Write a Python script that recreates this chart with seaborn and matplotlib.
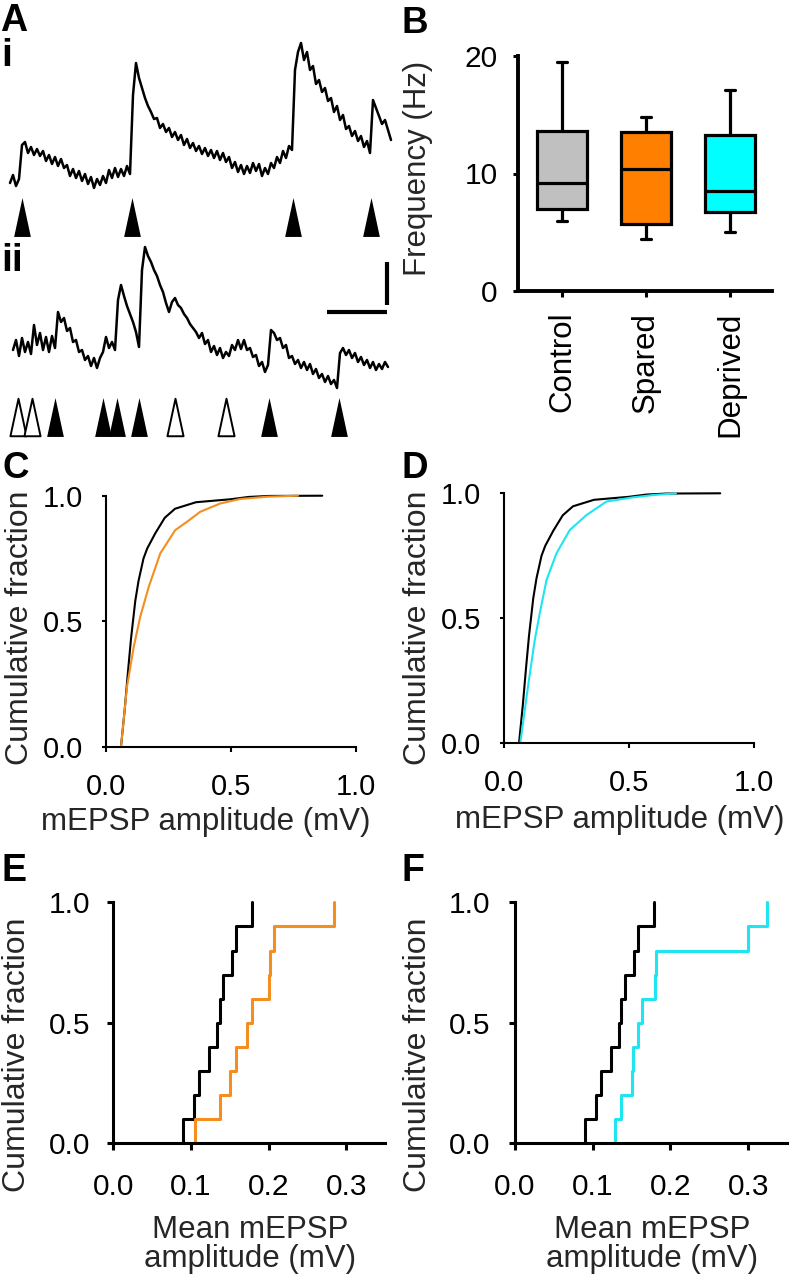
import numpy as np
import pandas as pd
import matplotlib
matplotlib.use("Agg")
import matplotlib.pyplot as plt
from matplotlib.path import Path
import seaborn as sns

# ---------------------------------------------------------------- data
# Panel A: example membrane-potential traces (mV), one sample every 6 ms
SAMPLE_MS = 6
TRACE_I_START_MS = 0
TRACE_I_MV = [
    0.17, 0.25, 0.14, 0.21, 0.55, 0.58, 0.47, 0.53, 0.45, 0.51, 0.44, 0.49, 0.39, 0.45,
    0.36, 0.43, 0.34, 0.41, 0.32, 0.35, 0.24, 0.31, 0.22, 0.29, 0.19, 0.26, 0.16, 0.23,
    0.12, 0.21, 0.15, 0.24, 0.17, 0.30, 0.22, 0.32, 0.23, 0.31, 0.24, 0.34, 0.26,
    1.05, 1.37, 1.22, 1.12, 1.02, 0.94, 0.88, 0.81, 0.82, 0.72, 0.76, 0.68, 0.72, 0.63,
    0.68, 0.60, 0.65, 0.55, 0.61, 0.52, 0.57, 0.49, 0.54, 0.46, 0.52, 0.44, 0.50, 0.42,
    0.49, 0.40, 0.47, 0.38, 0.43, 0.32, 0.38, 0.28, 0.35, 0.26, 0.34, 0.27, 0.37, 0.29,
    0.36, 0.24, 0.32, 0.26, 0.37, 0.32, 0.43, 0.37, 0.49, 0.42, 0.54, 0.50,
    1.30, 1.48, 1.57, 1.40, 1.48, 1.30, 1.34, 1.16, 1.20, 1.08, 1.12, 0.99, 1.02, 0.88,
    0.94, 0.80, 0.85, 0.71, 0.74, 0.64, 0.69, 0.59, 0.64, 0.53, 0.59, 0.47,
    1.00, 0.92, 0.84, 0.76, 0.80, 0.70, 0.60,
]
TRACE_II_START_MS = 6
TRACE_II_MV = [
    0.10, 0.20, 0.04, 0.22, 0.08, 0.18, 0.06, 0.35, 0.15, 0.27, 0.10, 0.23, 0.08, 0.24, 0.12,
    0.48, 0.38, 0.42, 0.29, 0.32, 0.18, 0.20, 0.08, 0.10, 0.00, 0.04, -0.06, 0.02, -0.08,
    0.02, 0.08, 0.23, 0.12, 0.18, 0.10,
    0.60, 0.75, 0.64, 0.54, 0.46, 0.38, 0.28, 0.13,
    0.90, 1.13, 1.04, 0.98, 0.90, 0.84, 0.75, 0.68, 0.57, 0.48, 0.58, 0.62, 0.55, 0.52,
    0.46, 0.42, 0.36, 0.32, 0.28, 0.22, 0.27, 0.16, 0.20, 0.08, 0.14, 0.05, 0.12, 0.02,
    0.08, 0.04, 0.15, 0.10, 0.20, 0.11, 0.20, 0.10, 0.12, 0.03, 0.05, -0.06, -0.02, -0.12,
    -0.05,
    0.30, 0.27, 0.20, 0.22, 0.12, 0.15, 0.02, 0.04, -0.04, 0.00, -0.08, -0.02, -0.10,
    -0.04, -0.14, -0.09, -0.18, -0.14, -0.22, -0.16, -0.24, -0.20, -0.28,
    0.07, 0.12, 0.05, 0.10, 0.02, 0.07, -0.02, 0.03, -0.05, 0.00, -0.08, -0.02, -0.10,
    -0.04, -0.09, -0.02, -0.07,
]
TRACE_II_OFFSET_MV = 1.6
EVENTS_I_MS = [24, 244, 566, 722]
EVENTS_II_FILLED_MS = [90, 186, 214, 258, 518, 658]
EVENTS_II_OPEN_MS = [16, 44, 330, 432]
SCALEBAR_MS = 120
SCALEBAR_MV = 0.43

# Panel B: mEPSP frequency box plots (Hz)
GROUPS = ["Control", "Spared", "Deprived"]
FREQ_MIN = [6.0, 4.45, 5.05]
FREQ_Q1 = [7.0, 5.7, 6.7]
FREQ_MED = [9.2, 10.35, 8.55]
FREQ_Q3 = [13.6, 13.5, 13.3]
FREQ_MAX = [19.45, 14.85, 17.1]

# Panels C, D: cumulative distributions of all mEPSP amplitudes (mV)
CDF_CTRL_X = [0.060, 0.075, 0.088, 0.100, 0.117, 0.130, 0.150, 0.165, 0.197, 0.235,
              0.276, 0.360, 0.500, 0.570, 0.650, 0.865]
CDF_CTRL_Y = [0.0, 0.15, 0.30, 0.43, 0.58, 0.66, 0.75, 0.79, 0.85, 0.912,
              0.948, 0.974, 0.986, 0.995, 0.999, 1.0]
CDF_SPARED_X = [0.060, 0.084, 0.111, 0.137, 0.171, 0.217, 0.277, 0.324, 0.377, 0.457,
                0.537, 0.644, 0.768]
CDF_SPARED_Y = [0.0, 0.239, 0.398, 0.518, 0.637, 0.770, 0.863, 0.896, 0.936, 0.969,
                0.987, 0.996, 1.0]
CDF_DEPRIVED_X = [0.065, 0.096, 0.123, 0.143, 0.170, 0.210, 0.263, 0.330, 0.410, 0.517,
                  0.597, 0.688]
CDF_DEPRIVED_Y = [0.0, 0.227, 0.413, 0.520, 0.653, 0.760, 0.853, 0.913, 0.967, 0.984,
                  0.993, 1.0]

# Panels E, F: per-cell mean mEPSP amplitudes (mV)
MEAN_CTRL = [0.090, 0.104, 0.111, 0.123, 0.134, 0.137, 0.141, 0.153, 0.158, 0.179]
MEAN_SPARED = [0.105, 0.138, 0.150, 0.158, 0.172, 0.179, 0.200, 0.202, 0.207, 0.284]
MEAN_DEPRIVED = [0.129, 0.136, 0.150, 0.152, 0.158, 0.163, 0.180, 0.181, 0.300, 0.324]

GRAY = "#C0C0C0"
ORANGE_BOX = "#FF8000"
CYAN_BOX = "#00FFFF"
ORANGE_LINE = "#F48E1F"
CYAN_LINE = "#1EE6F0"

# ---------------------------------------------------------------- setup
sns.set_theme(style="ticks")
plt.rcParams["font.family"] = ["Liberation Sans", "DejaVu Sans"]
plt.rcParams["axes.facecolor"] = "white"

W, H = 795, 1280
fig = plt.figure(figsize=(W / 100, H / 100), dpi=100)
fig.patch.set_facecolor("white")


def add_ax(x0, y0, x1, y1):
    """Axes from a pixel box (y measured from the top)."""
    return fig.add_axes([x0 / W, 1 - y1 / H, (x1 - x0) / W, (y1 - y0) / H])


def fxy(x, y):
    return x / W, 1 - y / H


def style_axes(ax, spine_lw, tick_w, len_x, len_y, pad_x, pad_y, labelsize):
    sns.despine(ax=ax)
    for s in ("left", "bottom"):
        ax.spines[s].set_linewidth(spine_lw)
        ax.spines[s].set_color("black")
    ax.tick_params(axis="x", direction="out", length=len_x, width=tick_w, pad=pad_x,
                   labelsize=labelsize, colors="black")
    ax.tick_params(axis="y", direction="out", length=len_y, width=tick_w, pad=pad_y,
                   labelsize=labelsize, colors="black")
    ax.grid(False)


def letter(x, y, s, size=27):
    fx, fy = fxy(x, y)
    fig.text(fx, fy, s, ha="left", va="top", fontsize=size, fontweight="bold",
             color="black")


# ---------------------------------------------------------------- panel A
axA = add_ax(0, 0, 395, 445)
axA.set_xlim(-20, 770)
axA.set_ylim(-2.45, 2.0)
axA.axis("off")

t_i = TRACE_I_START_MS + SAMPLE_MS * np.arange(len(TRACE_I_MV))
t_ii = TRACE_II_START_MS + SAMPLE_MS * np.arange(len(TRACE_II_MV))
sns.lineplot(x=t_i, y=TRACE_I_MV, ax=axA, color="black", linewidth=1.8,
             estimator=None, sort=False)
sns.lineplot(x=t_ii, y=np.array(TRACE_II_MV) - TRACE_II_OFFSET_MV, ax=axA,
             color="black", linewidth=1.8, estimator=None, sort=False)

TRI = Path([(-0.215, -0.5), (0.215, -0.5), (0.0, 0.5), (-0.215, -0.5)],
           [Path.MOVETO, Path.LINETO, Path.LINETO, Path.CLOSEPOLY])
ROW_I, ROW_II = -0.165, -2.17
axA.plot(EVENTS_I_MS, [ROW_I] * len(EVENTS_I_MS), ls="none", marker=TRI, ms=28,
         mfc="black", mec="black", mew=0)
axA.plot(EVENTS_II_FILLED_MS, [ROW_II] * len(EVENTS_II_FILLED_MS), ls="none",
         marker=TRI, ms=28, mfc="black", mec="black", mew=0)
axA.plot(EVENTS_II_OPEN_MS, [ROW_II] * len(EVENTS_II_OPEN_MS), ls="none",
         marker=TRI, ms=27, mfc="white", mec="black", mew=1.4)

# scale bar
sb_t, sb_y = 754, -1.12
axA.plot([sb_t - SCALEBAR_MS, sb_t], [sb_y, sb_y], color="black", lw=3,
         solid_capstyle="butt")
axA.plot([sb_t, sb_t], [sb_y + 0.07, sb_y + 0.07 + SCALEBAR_MV], color="black", lw=3,
         solid_capstyle="butt")

letter(0, 3, "A")
letter(1, 38, "i", size=28)
letter(1, 243, "ii", size=28)

# ---------------------------------------------------------------- panel B
df_b = pd.DataFrame({
    "group": np.repeat(GROUPS, 5),
    "freq": np.ravel(np.column_stack([FREQ_MIN, FREQ_Q1, FREQ_MED, FREQ_Q3, FREQ_MAX])),
})
axB = add_ax(518, 56, 772, 291)
sns.boxplot(data=df_b, x="group", y="freq", hue="group", order=GROUPS,
            hue_order=GROUPS, palette=[GRAY, ORANGE_BOX, CYAN_BOX], saturation=1,
            whis=(0, 100), width=0.6, linecolor="black", linewidth=2.3, legend=False,
            showfliers=False, capwidths=0.13, ax=axB)
axB.set_xlim(-0.524, 2.5)
axB.set_ylim(0, 20)
axB.set_yticks([0, 10, 20])
style_axes(axB, 2.8, 2.2, 4.5, 3.6, 10.5, 11.0, 21.5)
axB.tick_params(axis="x", labelsize=22.5, labelrotation=90)
axB.set_xlabel("")
axB.set_ylabel("Frequency (Hz)", fontsize=22.5)
axB.yaxis.set_label_coords(*fxy(433, 168.5), transform=fig.transFigure)
letter(401, 6, "B", size=26.5)

# ---------------------------------------------------------------- panels C, D
YTOP = 1.03


def cdf_axes(x0, x1, y_zero, y_one):
    top = y_zero - (y_zero - y_one) * YTOP
    return add_ax(x0, top, x1, y_zero)


def finish_cdf(ax, xmax, xticks, xlabels, ylabel, ylab_xy, xlab_xy, spine_lw,
               tick_w, len_x, len_y, pad_x, pad_y, tsize, lsize):
    ax.set_xlim(0, xmax)
    ax.set_ylim(0, YTOP)
    ax.set_xticks(xticks)
    ax.set_xticklabels(xlabels)
    ax.set_yticks([0, 0.5, 1.0])
    ax.set_yticklabels(["0.0", "0.5", "1.0"])
    style_axes(ax, spine_lw, tick_w, len_x, len_y, pad_x, pad_y, tsize)
    ax.spines["left"].set_bounds(0, 1)
    ax.set_ylabel(ylabel, fontsize=lsize)
    ax.yaxis.set_label_coords(*fxy(*ylab_xy), transform=fig.transFigure)
    ax.xaxis.set_label_coords(*fxy(*xlab_xy), transform=fig.transFigure)


axC = cdf_axes(106, 356, 746.7, 495.7)
sns.lineplot(x=CDF_CTRL_X, y=CDF_CTRL_Y, ax=axC, color="black", linewidth=1.5,
             estimator=None, sort=False)
sns.lineplot(x=CDF_SPARED_X, y=CDF_SPARED_Y, ax=axC, color=ORANGE_LINE, linewidth=1.5,
             estimator=None, sort=False)
axC.set_xlabel("mEPSP amplitude (mV)", fontsize=22.5)
finish_cdf(axC, 1.0, [0, 0.5, 1.0], ["0.0", "0.5", "1.0"], "Cumulative fraction",
           (35, 628), (206, 807), 1.5, 1.5, 3.6, 2.9, 15, 13.7, 21, 23)
letter(2, 451, "C", size=26.5)

axD = cdf_axes(504, 754, 743.3, 493.3)
sns.lineplot(x=CDF_CTRL_X, y=CDF_CTRL_Y, ax=axD, color="black", linewidth=1.5,
             estimator=None, sort=False)
sns.lineplot(x=CDF_DEPRIVED_X, y=CDF_DEPRIVED_Y, ax=axD, color=CYAN_LINE,
             linewidth=1.5, estimator=None, sort=False)
axD.set_xlabel("mEPSP amplitude (mV)", fontsize=22.5)
finish_cdf(axD, 1.0, [0, 0.5, 1.0], ["0.0", "0.5", "1.0"], "Cumulative fraction",
           (433, 627.5), (620, 805), 1.5, 1.5, 3.6, 2.9, 15, 13.7, 21, 23)
letter(402, 451, "D", size=26.5)

# ---------------------------------------------------------------- panels E, F
axE = cdf_axes(113.3, 385, 1143.3, 902.3)
sns.ecdfplot(x=MEAN_CTRL, ax=axE, color="black", linewidth=2.2)
sns.ecdfplot(x=MEAN_SPARED, ax=axE, color=ORANGE_LINE, linewidth=2.2)
axE.set_xlabel("Mean mEPSP\namplitude (mV)", fontsize=22.5, linespacing=0.95)
finish_cdf(axE, 0.35, [0, 0.1, 0.2, 0.3], ["0.0", "0.1", "0.2", "0.3"],
           "Cumulative fraction", (32, 1055), (250, 1215), 2.2, 2.2, 5, 4.3, 16.5, 12,
           21.5, 23)
letter(2, 853, "E", size=27)

axF = cdf_axes(515, 787, 1143.3, 902.3)
sns.ecdfplot(x=MEAN_CTRL, ax=axF, color="black", linewidth=2.2)
sns.ecdfplot(x=MEAN_DEPRIVED, ax=axF, color=CYAN_LINE, linewidth=2.2)
axF.set_xlabel("Mean mEPSP\namplitude (mV)", fontsize=22.5, linespacing=0.95)
finish_cdf(axF, 0.35, [0, 0.1, 0.2, 0.3], ["0.0", "0.1", "0.2", "0.3"],
           "Cumulaitve fraction", (433, 1055), (652, 1215), 2.2, 2.2, 5, 4.3, 16.5,
           13.7, 21.5, 23)
letter(402, 853, "F", size=27)

fig.savefig("out.png", dpi=100, facecolor="white")
